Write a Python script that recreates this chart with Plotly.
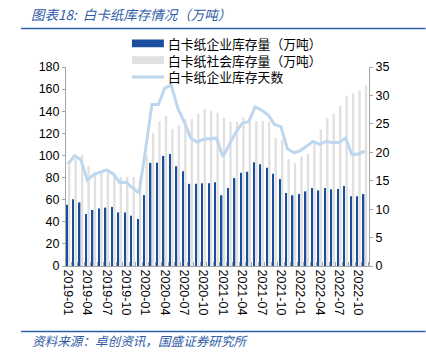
import plotly.graph_objects as go

# ---- data ----
months = [f"{y}-{m:02d}" for y in (2019, 2020, 2021, 2022) for m in range(1, 13)][:47]
tick_labels = ["2019-01", "2019-04", "2019-07", "2019-10", "2020-01", "2020-04",
               "2020-07", "2020-10", "2021-01", "2021-04", "2021-07", "2021-10",
               "2022-01", "2022-04", "2022-07", "2022-10"]

enterprise_stock = [55.5, 60.3, 57.5, 47.0, 50.7, 51.9, 52.8, 53.4, 48.5, 48.5, 45.5, 42.5,
                    64.3, 93.3, 93.3, 99.6, 101.3, 90.3, 85.8, 74.3, 74.3, 74.8, 74.8, 75.7,
                    64.0, 70.5, 79.5, 84.4, 85.2, 93.8, 92.0, 88.8, 83.5, 78.7, 66.0, 64.0,
                    65.1, 67.5, 70.5, 68.4, 70.5, 69.3, 69.6, 72.4, 63.0, 63.0, 65.1]
social_stock = [91.0, 97.0, 100.5, 90.5, 85.0, 84.5, 84.5, 82.0, 80.5, 80.5, 80.5, 80.5,
                100.5, 120.5, 130.7, 135.5, 123.5, 127.3, 132.5, 132.8, 137.8, 142.2, 140.5, 138.6,
                134.2, 130.6, 130.4, 134.2, 132.0, 130.6, 131.2, 130.6, 116.0, 114.5, 96.6, 93.0,
                99.0, 101.6, 110.3, 123.3, 133.9, 137.5, 145.0, 153.5, 155.9, 158.9, 163.4]
stock_days = [17.9, 19.4, 18.7, 15.1, 16.1, 16.5, 16.9, 16.2, 14.7, 14.7, 13.8, 12.8,
              20.3, 28.4, 28.4, 31.3, 31.8, 27.8, 25.4, 22.5, 21.8, 22.3, 22.4, 22.5,
              19.2, 21.3, 23.5, 25.1, 25.4, 28.0, 27.4, 26.6, 24.9, 24.5, 20.6, 19.9,
              20.3, 21.1, 21.9, 21.4, 21.9, 21.7, 21.7, 22.5, 19.6, 19.7, 20.2]

names = ["白卡纸企业库存量（万吨）", "白卡纸社会库存量（万吨）", "白卡纸企业库存天数"]
title_text = "图表18:  白卡纸库存情况（万吨）"
source_text = "资料来源：卓创资讯，国盛证券研究所"

# ---- style ----
W, H = 426, 363
PL, PR, PT, PB = 66, 369.3, 67, 266
BLUE = "#1c4e9e"
GRAY = "#e0e0e0"
LINE = "#bdd7ee"
TXT_BLUE = "#2f5ca8"
CJK = "Noto Sans CJK SC"
NUM = "Liberation Sans, Arial"


def px(x):
    """window pixel -> paper x"""
    return (x - PL) / (PR - PL)


def py(y):
    """window pixel -> paper y"""
    return (PB - y) / (PB - PT)


xi = list(range(len(months)))
tickvals = [months.index(t) for t in tick_labels]

fig = go.Figure()
fig.add_trace(go.Bar(x=xi, y=social_stock, name=names[1], marker_color=GRAY,
                     marker_line_width=0, width=0.36, offset=0.0, showlegend=False))
fig.add_trace(go.Bar(x=xi, y=enterprise_stock, name=names[0], marker_color=BLUE,
                     marker_line_width=0, width=0.22, offset=-0.3, showlegend=False))
fig.add_trace(go.Scatter(x=xi, y=stock_days, name=names[2], mode="lines", yaxis="y2",
                         line=dict(color=LINE, width=3), showlegend=False))

fig.update_layout(
    width=W, height=H,
    margin=dict(l=PL, r=W - PR, t=PT, b=H - PB, autoexpand=False),
    paper_bgcolor="white", plot_bgcolor="white",
    barmode="overlay",
    font=dict(family=NUM, size=12.5, color="#000000"),
    xaxis=dict(range=[-0.31, 46.64], tickmode="array", tickvals=tickvals, ticktext=tick_labels,
               tickangle=90, ticks="", showgrid=False, zeroline=False,
               showline=True, linecolor="#a6a6a6", linewidth=1,
               tickfont=dict(family=NUM, size=12.5),
               minor=dict(tickmode="array", tickvals=[i + 0.5 for i in range(-1, 47)],
                          ticks="inside", ticklen=4, tickcolor="#a6a6a6", tickwidth=1)),
    yaxis=dict(range=[0, 180], dtick=20, showgrid=False, zeroline=False,
               showline=True, linecolor="#a6a6a6", linewidth=1,
               ticks="outside", ticklen=3, tickcolor="#a6a6a6",
               tickfont=dict(family=NUM, size=12.5)),
    yaxis2=dict(range=[0, 35], dtick=5, overlaying="y", side="right", showgrid=False,
                zeroline=False, showline=True, linecolor="#a6a6a6", linewidth=1,
                ticks="outside", ticklen=3, tickcolor="#a6a6a6",
                tickfont=dict(family=NUM, size=12.5)),
)

shapes = []
annotations = []
# header / footer rules
shapes.append(dict(type="line", xref="paper", yref="paper", x0=px(21), x1=px(426),
                   y0=py(28.5), y1=py(28.5), line=dict(color=TXT_BLUE, width=1.5)))
shapes.append(dict(type="line", xref="paper", yref="paper", x0=px(21), x1=px(426),
                   y0=py(331.5), y1=py(331.5), line=dict(color=TXT_BLUE, width=1.5)))
annotations.append(dict(text="<i>" + title_text + "</i>", xref="paper", yref="paper",
                        x=px(29), y=py(14), xanchor="left", yanchor="middle", showarrow=False,
                        font=dict(family=CJK, size=13.5, color=TXT_BLUE)))
annotations.append(dict(text="<i>" + source_text + "</i>", xref="paper", yref="paper",
                        x=px(30), y=py(340), xanchor="left", yanchor="middle", showarrow=False,
                        font=dict(family=CJK, size=12.6, color=TXT_BLUE)))
# legend (symbols as shapes, labels as one three-line text block)
shapes.append(dict(type="rect", xref="paper", yref="paper", x0=px(132), x1=px(164),
                   y0=py(47.3), y1=py(39.5), fillcolor=BLUE, line=dict(width=0)))
shapes.append(dict(type="rect", xref="paper", yref="paper", x0=px(132), x1=px(164),
                   y0=py(64), y1=py(56.3), fillcolor=GRAY, line=dict(width=0)))
shapes.append(dict(type="line", xref="paper", yref="paper", x0=px(132), x1=px(164),
                   y0=py(77), y1=py(77), line=dict(color=LINE, width=3)))
annotations.append(dict(text="<br>".join(names), xref="paper", yref="paper",
                        x=px(166), y=py(60), xanchor="left", yanchor="middle", align="left",
                        showarrow=False,
                        font=dict(family=CJK, size=12.8, color="#000000")))

fig.update_layout(shapes=shapes, annotations=annotations)
# remove the browser's default 8px body margin so the figure fills the window
fig.write_html("out.html", config={"displayModeBar": False},
               post_script="document.body.style.margin='0';")
